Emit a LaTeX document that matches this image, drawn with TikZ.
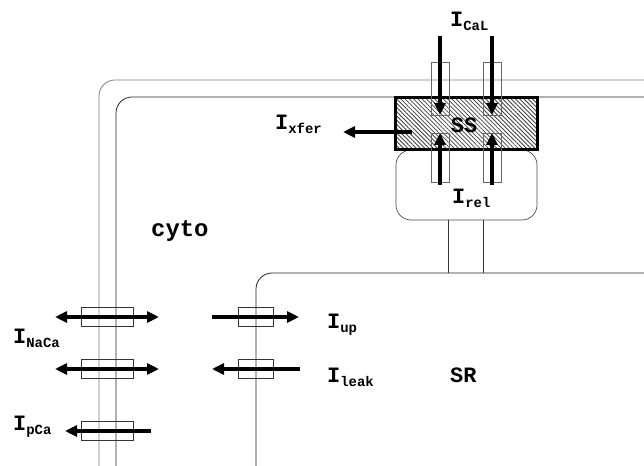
\documentclass[tikz,border=0pt]{standalone}
\usepackage{fontspec}
\setmonofont{Liberation Mono}
\usetikzlibrary{arrows.meta, patterns.meta, positioning}
\tikzstyle{flux} = [line width=3.2bp, -{Triangle[length=12bp,width=11bp]}]
\tikzstyle{biflux} = [line width=3.2bp, {Triangle[length=12bp,width=11bp]}-{Triangle[length=12bp,width=11bp]}]
\tikzstyle{pump} = [draw=black!80, rectangle, line width=0.7bp, inner sep=0pt,
   minimum width=52bp, minimum height=19bp]
\tikzstyle{chan} = [draw=black!60, rectangle, line width=0.7bp, inner sep=0pt,
   minimum width=18bp]
\tikzstyle{membrane} = [line width=0.8bp, rounded corners=16bp]
\tikzstyle{lbl} = [anchor=base west, inner sep=0pt]
\newcommand{\curr}[1]{I\raisebox{-4bp}{\fontsize{14}{14}\selectfont #1}}

\begin{document}
\begin{tikzpicture}[
  x=1bp, y=-1bp,
  font=\ttfamily\bfseries\fontsize{22}{22}\selectfont,
  ]
  \useasboundingbox (0,0) rectangle (644,466);
  % membranes
  \draw[membrane, black!50] (99,466) -- (99,80) -- (644,80);
  \draw[membrane, black!85] (116,466) -- (116,97) -- (644,97);
  \draw[membrane, black!85] (256,466) -- (256,273) -- (644,273);
  % junctional SR and subspace
  \node[draw=black!70, rectangle, rounded corners=15bp, line width=0.7bp,
    minimum width=141bp, minimum height=70bp] (jsr) at (466.5,185) {};
  \draw[black!80, line width=0.7bp] (448,220) -- (448,273);
  \draw[black!80, line width=0.7bp] (483,220) -- (483,273);
  \node[draw, rectangle, line width=3bp, fill=white,
    pattern={Lines[angle=-45,distance=3bp,line width=0.8bp]}, pattern color=black!75,
    minimum width=142bp, minimum height=52bp] (ss) at (466,124) {};
  \node (sslbl) at (464,125) {SS};
  \node[chan, minimum height=53bp] (lcc1) at (440,88.5) {};
  \node[chan, minimum height=53bp] (lcc2) at (492,88.5) {};
  \node[chan, minimum height=49bp] (ryr1) at (440,157.5) {};
  \node[chan, minimum height=49bp] (ryr2) at (492,157.5) {};
  % transporters
  \node[pump] (naca1) at (107,316.5) {};
  \node[pump] (naca2) at (107,369) {};
  \node[pump] (pca) at (107,430.5) {};
  \node[pump, minimum width=35bp] (serca) at (255.5,316.5) {};
  \node[pump, minimum width=35bp] (leak) at (255.5,369) {};
  % flux end points
  \coordinate (calin1) at (440,36);  \coordinate (calout1) at (440,115);
  \coordinate (calin2) at (492,36);  \coordinate (calout2) at (492,115);
  \coordinate (relin1) at (440,185); \coordinate (relout1) at (440,133);
  \coordinate (relin2) at (492,185); \coordinate (relout2) at (492,133);
  \coordinate (xferin) at (412,132); \coordinate (xferout) at (343,132);
  \coordinate (nacaA) at (55,317);   \coordinate (nacaB) at (159,317);
  \coordinate (nacaC) at (55,369);   \coordinate (nacaD) at (159,369);
  \coordinate (pcain) at (151,431);  \coordinate (pcaout) at (65,431);
  \coordinate (upin) at (212,317);   \coordinate (upout) at (299,317);
  \coordinate (leakin) at (300,369); \coordinate (leakout) at (212,369);
  \draw[flux] (calin1) -- (calout1);
  \draw[flux] (calin2) -- (calout2);
  \draw[flux] (relin1) -- (relout1);
  \draw[flux] (relin2) -- (relout2);
  \draw[flux] (xferin) -- (xferout);
  \draw[biflux] (nacaA) -- (nacaB);
  \draw[biflux] (nacaC) -- (nacaD);
  \draw[flux] (pcain) -- (pcaout);
  \draw[flux] (upin) -- (upout);
  \draw[flux] (leakin) -- (leakout);
  % labels
  \node[lbl] (ical) at (450,27) {\curr{CaL}};
  \node[lbl] (ixfer) at (275,130) {\curr{xfer}};
  \node[lbl] (irel) at (452,204) {\curr{rel}};
  \node[lbl, font=\ttfamily\bfseries\fontsize{24}{24}\selectfont] (cyto) at (151,237) {cyto};
  \node[lbl] (inaca) at (13,343) {\curr{NaCa}};
  \node[lbl] (ipca) at (13,430) {\curr{pCa}};
  \node[lbl] (iup) at (327,328) {\curr{up}};
  \node[lbl] (ileak) at (327,382) {\curr{leak}};
  \node[lbl] (sr) at (450,382) {SR};
\end{tikzpicture}
\end{document}
